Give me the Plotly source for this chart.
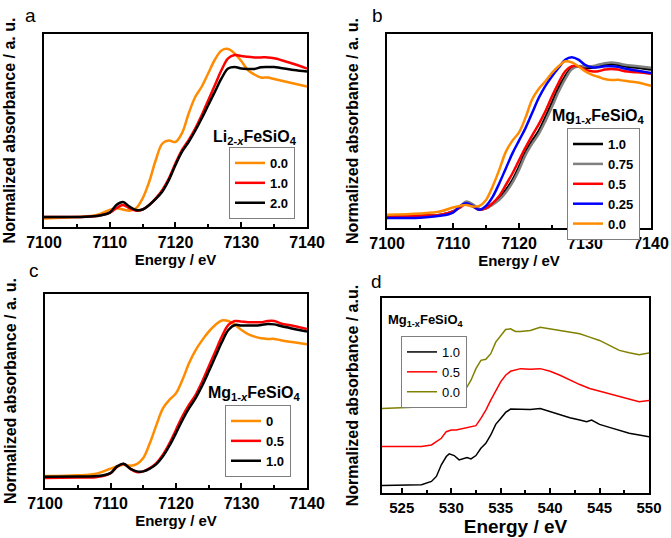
import plotly.graph_objects as go

FONT = "Liberation Sans"

# Fe K-edge energy grid (eV), shared by panels a-c
energy_fe = [7100, 7105, 7108, 7110, 7111, 7112, 7113, 7114, 7115, 7116, 7117,
             7118, 7119, 7120, 7121, 7122, 7123, 7124, 7125, 7126, 7127, 7128,
             7129, 7130, 7131, 7132, 7133, 7134, 7135, 7136, 7138, 7140]

# panel a: Li(2-x)FeSiO4, Fe K-edge
a_names = ["0.0", "1.0", "2.0"]
a_x00 = [-0.01, 0.0, 0.013, 0.047, 0.058, 0.05, 0.042, 0.058, 0.124, 0.235, 0.38,
         0.49, 0.51, 0.50, 0.56, 0.69, 0.80, 0.87, 0.96, 1.05, 1.11, 1.12,
         1.09, 1.04, 0.98, 0.95, 0.93, 0.93, 0.92, 0.91, 0.89, 0.87]
a_x10 = [0.0, 0.0, 0.007, 0.029, 0.058, 0.08, 0.058, 0.042, 0.05, 0.08, 0.124,
         0.18, 0.258, 0.358, 0.447, 0.513, 0.59, 0.68, 0.78, 0.88, 0.98, 1.058,
         1.08, 1.073, 1.069, 1.064, 1.064, 1.064, 1.058, 1.047, 1.02, 0.99]
a_x20 = [0.0, 0.0, 0.007, 0.029, 0.08, 0.10, 0.069, 0.047, 0.05, 0.08, 0.12,
         0.17, 0.247, 0.347, 0.436, 0.50, 0.575, 0.658, 0.747, 0.836, 0.924, 0.99,
         1.0, 0.99, 0.987, 0.987, 0.998, 1.0, 1.0, 0.993, 0.98, 0.97]

# panel b: Mg(1-x)FeSiO4, Fe K-edge
b_names = ["1.0", "0.75", "0.5", "0.25", "0.0"]
b_x100 = [0.0, 0.005, 0.01, 0.033, 0.06, 0.095, 0.077, 0.048, 0.055, 0.084, 0.12,
          0.176, 0.242, 0.33, 0.43, 0.505, 0.57, 0.66, 0.758, 0.857, 0.934, 0.99,
          1.0, 0.99, 0.99, 0.996, 1.01, 1.015, 1.01, 1.0, 0.99, 0.978]
b_x075 = [0.0, 0.005, 0.01, 0.033, 0.062, 0.10, 0.08, 0.05, 0.052, 0.078, 0.11,
          0.16, 0.225, 0.31, 0.41, 0.485, 0.55, 0.635, 0.73, 0.83, 0.915, 0.98,
          1.0, 1.0, 1.0, 1.01, 1.02, 1.025, 1.02, 1.01, 1.0, 0.99]
b_x050 = [0.0, 0.005, 0.01, 0.033, 0.058, 0.084, 0.065, 0.044, 0.055, 0.088, 0.136,
          0.21, 0.286, 0.374, 0.46, 0.54, 0.615, 0.70, 0.80, 0.89, 0.967, 1.0,
          1.0, 0.978, 0.967, 0.967, 0.978, 0.982, 0.978, 0.967, 0.96, 0.95]
b_x025 = [-0.011, -0.008, 0.004, 0.026, 0.066, 0.088, 0.07, 0.044, 0.07, 0.13, 0.22,
          0.32, 0.42, 0.505, 0.59, 0.69, 0.79, 0.87, 0.934, 0.99, 1.044, 1.06,
          1.044, 1.01, 0.993, 0.993, 1.0, 1.0, 0.996, 0.985, 0.97, 0.956]
b_x000 = [0.011, 0.02, 0.033, 0.06, 0.07, 0.077, 0.066, 0.07, 0.11, 0.2, 0.31,
          0.43, 0.505, 0.56, 0.66, 0.78, 0.85, 0.90, 0.956, 1.0, 1.033, 1.026,
          1.0, 0.967, 0.945, 0.93, 0.915, 0.908, 0.91, 0.903, 0.892, 0.87]

# panel c: Mg(1-x)FeSiO4, Fe K-edge
c_names = ["0", "0.5", "1.0"]
c_x0 = [0.004, 0.009, 0.022, 0.053, 0.068, 0.079, 0.072, 0.083, 0.123, 0.22, 0.34,
        0.45, 0.507, 0.55, 0.64, 0.75, 0.835, 0.90, 0.956, 1.0, 1.03, 1.026,
        1.0, 0.967, 0.94, 0.923, 0.912, 0.908, 0.908, 0.90, 0.886, 0.873]
c_x05 = [-0.009, -0.005, -0.002, 0.024, 0.064, 0.083, 0.053, 0.03, 0.035, 0.057, 0.09,
         0.145, 0.22, 0.31, 0.40, 0.474, 0.54, 0.627, 0.726, 0.825, 0.923, 1.0,
         1.026, 1.022, 1.018, 1.018, 1.018, 1.026, 1.026, 1.01, 0.993, 0.974]
c_x10 = [0.0, 0.002, 0.004, 0.024, 0.068, 0.086, 0.053, 0.035, 0.035, 0.053, 0.083,
         0.134, 0.204, 0.287, 0.375, 0.452, 0.518, 0.60, 0.693, 0.79, 0.886, 0.967,
         1.0, 0.996, 0.996, 0.996, 1.0, 1.007, 1.004, 0.993, 0.974, 0.956]

# panel d: Mg(1-x)FeSiO4, O K-edge (curves stacked with offsets)
d_names = ["1.0", "0.5", "0.0"]
d_e10 = [523, 525, 527, 528, 528.5, 529, 529.5, 529.8, 530.3, 530.8, 531.2, 531.6,
         532, 532.5, 533, 533.5, 534, 534.5, 535, 535.5, 536, 537, 538, 539, 540,
         541, 542, 543, 543.7, 544.2, 545, 546, 547, 548, 549, 550]
d_y10 = [0.23, 0.23, 0.25, 0.35, 0.50, 0.85, 1.10, 1.18, 1.13, 1.00, 1.03, 1.07,
         1.03, 1.13, 1.35, 1.50, 1.75, 2.07, 2.25, 2.43, 2.53, 2.52, 2.52, 2.55, 2.45,
         2.35, 2.27, 2.20, 2.15, 2.20, 2.07, 1.98, 1.88, 1.80, 1.75, 1.70]
d_e05 = [523, 525, 527, 528, 529, 529.5, 530, 530.5, 531, 532, 532.5, 533, 533.5,
         534, 534.5, 535, 535.5, 536, 537, 538, 539, 540, 541, 542, 543, 544, 545,
         546, 547, 548, 549, 550]
d_y05 = [1.40, 1.40, 1.40, 1.45, 1.65, 1.85, 1.90, 1.90, 1.93, 1.98, 2.03, 2.25, 2.50,
         2.80, 3.10, 3.35, 3.55, 3.67, 3.75, 3.73, 3.75, 3.67, 3.55, 3.40, 3.27, 3.15,
         3.07, 2.98, 2.90, 2.82, 2.75, 2.79]
d_e00 = [523, 525, 527, 528, 529, 529.5, 530, 531, 531.5, 532, 532.5, 533, 533.5,
         534, 534.5, 535, 535.5, 536, 536.5, 537, 538, 539, 540, 541, 542, 543, 544,
         545, 546, 547, 548, 549, 550]
d_y00 = [2.55, 2.57, 2.59, 2.61, 2.85, 3.00, 3.07, 3.07, 3.15, 3.40, 3.75, 4.00, 4.03,
         4.20, 4.55, 4.75, 4.93, 4.95, 4.87, 4.87, 4.90, 5.00, 4.95, 4.90, 4.85, 4.80,
         4.70, 4.60, 4.45, 4.30, 4.23, 4.17, 4.22]

ORANGE = "#FF8C00"
RED = "#FF0000"
BLACK = "#000000"
GRAY = "#808080"
BLUE = "#0000FF"
OLIVE = "#808000"


def bold(size):
    return dict(family=FONT, size=size, color="black", weight="bold")


def x_axis(domain, anchor, rng, dtick, title, tsize, lsize, standoff):
    return dict(domain=domain, anchor=anchor, range=rng, dtick=dtick,
                showline=True, linecolor="black", linewidth=2, mirror=True,
                ticks="inside", ticklen=5, tickwidth=1.5, tickcolor="black",
                minor=dict(ticks="inside", ticklen=3, dtick=dtick / 2,
                           tickwidth=1.5, tickcolor="black"),
                showgrid=False, zeroline=False, tickfont=bold(lsize),
                automargin=False,
                title=dict(text=title, font=bold(tsize), standoff=standoff))


def y_axis(domain, anchor, rng, title, standoff):
    return dict(domain=domain, anchor=anchor, range=rng,
                showline=True, linecolor="black", linewidth=2, mirror=True,
                ticks="", showticklabels=False, showgrid=False, zeroline=False,
                automargin=False,
                title=dict(text=title, font=bold(16), standoff=standoff))


def legend_box(x, y, font):
    return dict(x=x, y=y, xanchor="left", yanchor="top", font=font,
                bgcolor="white", bordercolor="#7f7f7f", borderwidth=1,
                itemwidth=30, tracegroupgap=0)


fig = go.Figure()

# panel a
for name, vals, col in zip(a_names, [a_x00, a_x10, a_x20], [ORANGE, RED, BLACK]):
    fig.add_trace(go.Scatter(x=energy_fe, y=vals, name=name, mode="lines",
                             line=dict(color=col, width=2.5, shape="spline"),
                             xaxis="x", yaxis="y", legend="legend"))

# panel b
for name, vals, col in zip(b_names, [b_x100, b_x075, b_x050, b_x025, b_x000],
                           [BLACK, GRAY, RED, BLUE, ORANGE]):
    fig.add_trace(go.Scatter(x=energy_fe, y=vals, name=name, mode="lines",
                             line=dict(color=col, width=2.5, shape="spline"),
                             xaxis="x2", yaxis="y2", legend="legend2"))

# panel c
for name, vals, col in zip(c_names, [c_x0, c_x05, c_x10], [ORANGE, RED, BLACK]):
    fig.add_trace(go.Scatter(x=energy_fe, y=vals, name=name, mode="lines",
                             line=dict(color=col, width=2.5, shape="spline"),
                             xaxis="x3", yaxis="y3", legend="legend3"))

# panel d
for name, xs, ys, col in zip(d_names, [d_e10, d_e05, d_e00], [d_y10, d_y05, d_y00],
                             [BLACK, RED, OLIVE]):
    fig.add_trace(go.Scatter(x=xs, y=ys, name=name, mode="lines",
                             line=dict(color=col, width=1.5),
                             xaxis="x4", yaxis="y4", legend="legend4"))

ytitle = "Normalized absorbance / a. u."
fig.update_layout(
    width=671, height=538,
    margin=dict(l=0, r=0, t=0, b=0),
    paper_bgcolor="white", plot_bgcolor="white",
    font=dict(family=FONT, color="black"),
    xaxis=x_axis([0.0656, 0.4575], "y", [7100, 7140], 10, "Energy / eV", 15, 16, 4),
    yaxis=y_axis([0.5781, 0.9368], "x", [-0.0667, 1.22], ytitle, 22),
    xaxis2=x_axis([0.5768, 0.9702], "y2", [7100, 7140], 10, "Energy / eV", 15, 16, 4),
    yaxis2=y_axis([0.5762, 0.9368], "x2", [-0.077, 1.215], ytitle, 22),
    xaxis3=x_axis([0.0671, 0.4575], "y3", [7100, 7140], 10, "Energy / eV", 15, 16, 4),
    yaxis3=y_axis([0.0929, 0.4535], "x3", [-0.0746, 1.204], ytitle, 22),
    xaxis4=x_axis([0.5693, 0.9672], "y4", [523, 550], 5, "Energy / eV", 19, 15, 2),
    yaxis4=y_axis([0.0836, 0.4461], "x4", [0, 5.88], "Normalized absorbance / a.u.", 17),
    legend=legend_box(0.3413, 0.7268, bold(13)),
    legend2=legend_box(0.845, 0.762, bold(13)),
    legend3=legend_box(0.3353, 0.2472, bold(13)),
    legend4=legend_box(0.5976, 0.3755, dict(family=FONT, size=13, color="black")),
    showlegend=True,
)

# panel letters
for letter, px, py in [("a", 30, 16), ("b", 377, 16), ("c", 34, 270), ("d", 376, 281)]:
    fig.add_annotation(text=letter, x=px / 671, y=1 - py / 538, xref="paper", yref="paper",
                       xanchor="center", yanchor="middle", showarrow=False,
                       font=dict(family=FONT, size=19, color="black"))

# compound labels above legends
for txt, px, py, size in [("Li<sub>2-<i>x</i></sub>FeSiO<sub>4</sub>", 255, 137, 16),
                          ("Mg<sub>1-<i>x</i></sub>FeSiO<sub>4</sub>", 598, 116, 16),
                          ("Mg<sub>1-<i>x</i></sub>FeSiO<sub>4</sub>", 255, 393, 16),
                          ("Mg<sub>1-x</sub>FeSiO<sub>4</sub>", 426, 320, 13)]:
    fig.add_annotation(text=txt, x=px / 671, y=1 - py / 538, xref="paper", yref="paper",
                       xanchor="center", yanchor="middle", showarrow=False, font=bold(size))

# drop the browser's default body margin so the figure sits at the page corner
fig.write_html("out.html", config={"displayModeBar": False},
               post_script="document.body.style.margin = '0';")
